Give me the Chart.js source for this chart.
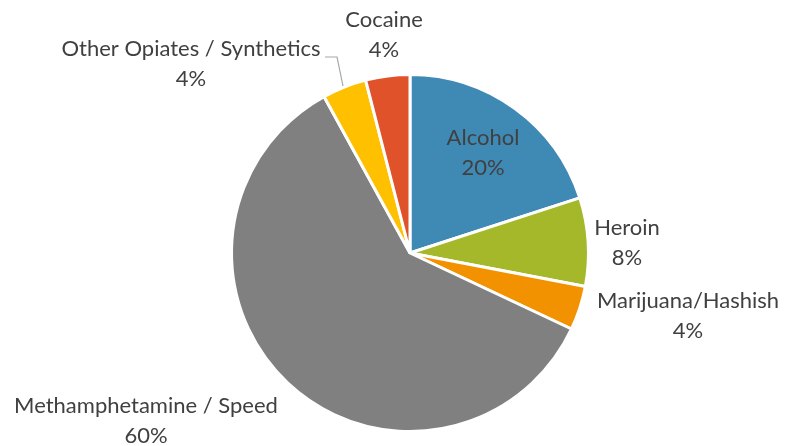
<!DOCTYPE html>
<html>
<head>
<meta charset="utf-8">
<script src="https://cdn.jsdelivr.net/npm/chart.js@4.4.1/dist/chart.umd.min.js"></script>
<style>
  html, body { margin: 0; padding: 0; background: #fff; }
  #wrap { width: 786px; height: 446px; }
</style>
</head>
<body>
<div id="wrap"><canvas id="chart_pie" width="786" height="446"></canvas></div>
<script>
const categories = ['Alcohol', 'Heroin', 'Marijuana/Hashish', 'Methamphetamine / Speed', 'Other Opiates / Synthetics', 'Cocaine'];
const shares = [20, 8, 4, 60, 4, 4];
const sliceColors = ['#3F89B5', '#A5B82A', '#F39200', '#808080', '#FFC000', '#E0522A'];

// label anchor points (centre of the two-line label)
const labelPos = [
    [483, 153], [627, 243], [688, 316], [146, 421], [191, 64], [384, 35]
];

const labelPlugin = {
    id: 'sliceLabels',
    afterDatasetsDraw(chart) {
        const ctx = chart.ctx;
        ctx.save();
        ctx.font = '22px Lato';
        ctx.fillStyle = '#404040';
        ctx.textAlign = 'center';
        ctx.textBaseline = 'middle';
        categories.forEach((name, i) => {
            const [x, y] = labelPos[i];
            ctx.fillText(name, x, y - 15);
            ctx.fillText(shares[i] + '%', x, y + 15);
        });
        // leader line for Other Opiates
        ctx.strokeStyle = '#A6A6A6';
        ctx.lineWidth = 1.2;
        ctx.beginPath();
        ctx.moveTo(325, 57);
        ctx.lineTo(337, 57);
        ctx.lineTo(343, 86);
        ctx.stroke();
        ctx.restore();
    }
};

const ctx = document.getElementById('chart_pie').getContext('2d');
new Chart(ctx, {
    type: 'pie',
    data: {
        labels: categories,
        datasets: [{
            data: shares,
            backgroundColor: sliceColors,
            borderColor: '#ffffff',
            borderWidth: 3
        }]
    },
    options: {
        responsive: false,
        animation: false,
        layout: {
            padding: { top: 73, bottom: 13, left: 34, right: 0 }
        },
        plugins: {
            legend: { display: false },
            tooltip: { enabled: false }
        }
    },
    plugins: [labelPlugin]
});
</script>
</body>
</html>
